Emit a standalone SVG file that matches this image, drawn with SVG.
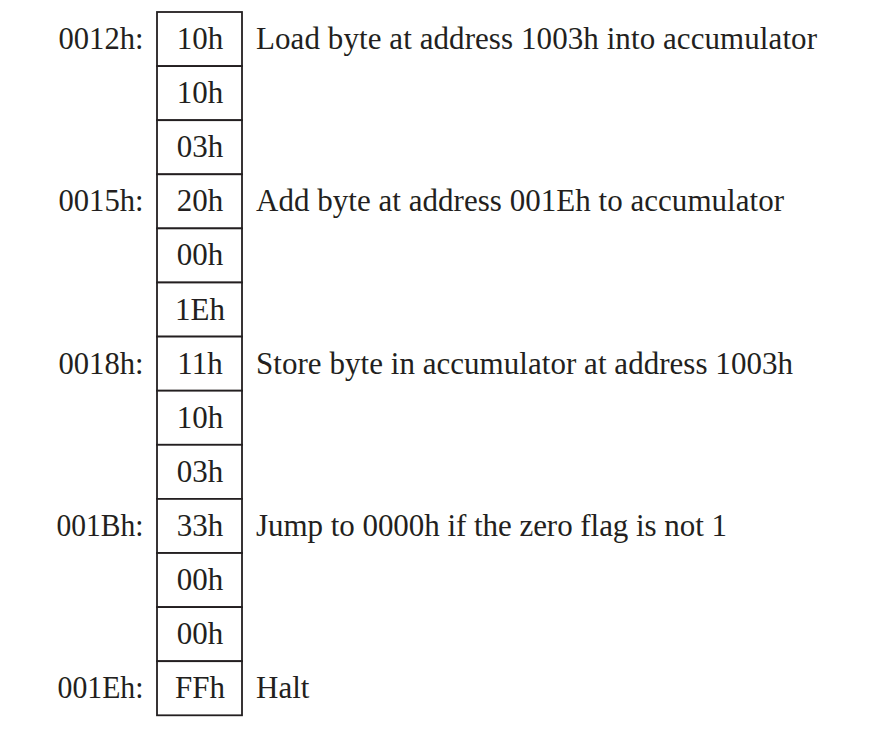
<svg xmlns="http://www.w3.org/2000/svg" width="874" height="737" viewBox="0 0 874 737">
<style>
text{font-family:"Liberation Serif","Times New Roman",serif;font-size:31px;fill:#231f20}
.addr{text-anchor:end}
.val{text-anchor:middle}
.cell{fill:#ffffff;stroke:#231f20;stroke-width:1.8}
</style>
<rect width="874" height="737" fill="#ffffff"/>
<g id="memory">
<g id="row0"><rect class="cell" x="157" y="12" width="85" height="54.1"/><text class="addr" x="143.5" y="49" textLength="85" lengthAdjust="spacingAndGlyphs">0012h:</text><text class="val" x="200" y="49">10h</text><text x="256" y="49" textLength="561" lengthAdjust="spacing">Load byte at address 1003h into accumulator</text></g>
<g id="row1"><rect class="cell" x="157" y="66.1" width="85" height="54.1"/><text class="val" x="200" y="103.1">10h</text></g>
<g id="row2"><rect class="cell" x="157" y="120.2" width="85" height="54.1"/><text class="val" x="200" y="157.2">03h</text></g>
<g id="row3"><rect class="cell" x="157" y="174.3" width="85" height="54.1"/><text class="addr" x="143.5" y="211.3" textLength="85" lengthAdjust="spacingAndGlyphs">0015h:</text><text class="val" x="200" y="211.3">20h</text><text x="256" y="211.3" textLength="528" lengthAdjust="spacing">Add byte at address 001Eh to accumulator</text></g>
<g id="row4"><rect class="cell" x="157" y="228.4" width="85" height="54.1"/><text class="val" x="200" y="265.4">00h</text></g>
<g id="row5"><rect class="cell" x="157" y="282.5" width="85" height="54.1"/><text class="val" x="200" y="319.5">1Eh</text></g>
<g id="row6"><rect class="cell" x="157" y="336.6" width="85" height="54.1"/><text class="addr" x="143.5" y="373.6" textLength="85" lengthAdjust="spacingAndGlyphs">0018h:</text><text class="val" x="200" y="373.6">11h</text><text x="256" y="373.6" textLength="537" lengthAdjust="spacing">Store byte in accumulator at address 1003h</text></g>
<g id="row7"><rect class="cell" x="157" y="390.7" width="85" height="54.1"/><text class="val" x="200" y="427.7">10h</text></g>
<g id="row8"><rect class="cell" x="157" y="444.8" width="85" height="54.1"/><text class="val" x="200" y="481.8">03h</text></g>
<g id="row9"><rect class="cell" x="157" y="498.9" width="85" height="54.1"/><text class="addr" x="143.5" y="535.9" textLength="87" lengthAdjust="spacingAndGlyphs">001Bh:</text><text class="val" x="200" y="535.9">33h</text><text x="256" y="535.9" textLength="471" lengthAdjust="spacing">Jump to 0000h if the zero flag is not 1</text></g>
<g id="row10"><rect class="cell" x="157" y="553" width="85" height="54.1"/><text class="val" x="200" y="590">00h</text></g>
<g id="row11"><rect class="cell" x="157" y="607.1" width="85" height="54.1"/><text class="val" x="200" y="644.1">00h</text></g>
<g id="row12"><rect class="cell" x="157" y="661.2" width="85" height="54.1"/><text class="addr" x="143.5" y="698.2" textLength="86" lengthAdjust="spacingAndGlyphs">001Eh:</text><text class="val" x="200" y="698.2">FFh</text><text x="256" y="698.2">Halt</text></g>
</g>
</svg>
